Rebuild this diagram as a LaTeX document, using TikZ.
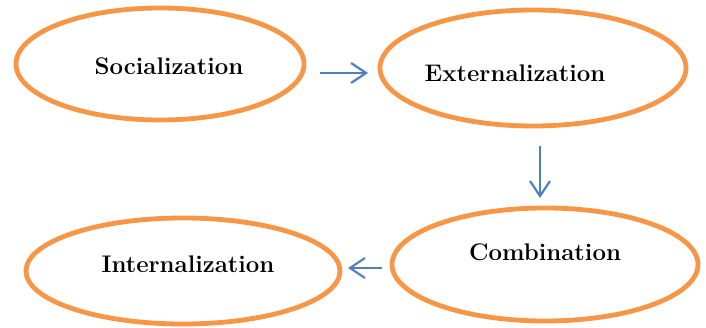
\documentclass[tikz,border=0pt]{standalone}
\usepackage{fontspec}
\usetikzlibrary{shapes.geometric,arrows.meta,calc}
\definecolor{ringorange}{HTML}{F79646}
\definecolor{arrowblue}{HTML}{4F81BD}
\begin{document}
\begin{tikzpicture}[x=1pt,y=-1pt,
  ring/.style={draw=ringorange,line width=4.8pt,ellipse,inner sep=0pt,outer sep=0pt},
  lbl/.style={font=\fontsize{24}{28}\selectfont\bfseries,inner sep=0pt},
  flow/.style={draw=arrowblue,line width=2.2pt,-{Straight Barb[length=15pt,width=20pt,line width=2.2pt]}}]
\useasboundingbox (0,0) rectangle (706,328);
\node[ring,minimum width=288pt,minimum height=112pt] (soc) at (160,64) {};
\node[ring,minimum width=306pt,minimum height=116pt] (ext) at (533,68) {};
\node[ring,minimum width=306pt,minimum height=113pt] (comb) at (545,264.5) {};
\node[ring,minimum width=314pt,minimum height=106pt] (int) at (183,271) {};
\node[lbl] (socT) at ($(soc)+(9,2)$) {Socialization};
\node[lbl] (extT) at ($(ext)+(-18,5)$) {Externalization};
\node[lbl] (combT) at ($(comb)+(0,-12)$) {Combination};
\node[lbl] (intT) at ($(int)+(5,-7)$) {Internalization};
\draw[flow,shorten <=16pt,shorten >=12pt] ([yshift=-9pt]soc.east) -- ([yshift=-5pt]ext.west);
\draw[flow,shorten <=20pt,shorten >=10pt] ([xshift=7pt]ext.south) -- ([xshift=-5pt]comb.north);
\draw[flow,shorten <=10pt,shorten >=8pt] ([yshift=-3.5pt]comb.west) -- ([yshift=3pt]int.east);
\end{tikzpicture}
\end{document}
